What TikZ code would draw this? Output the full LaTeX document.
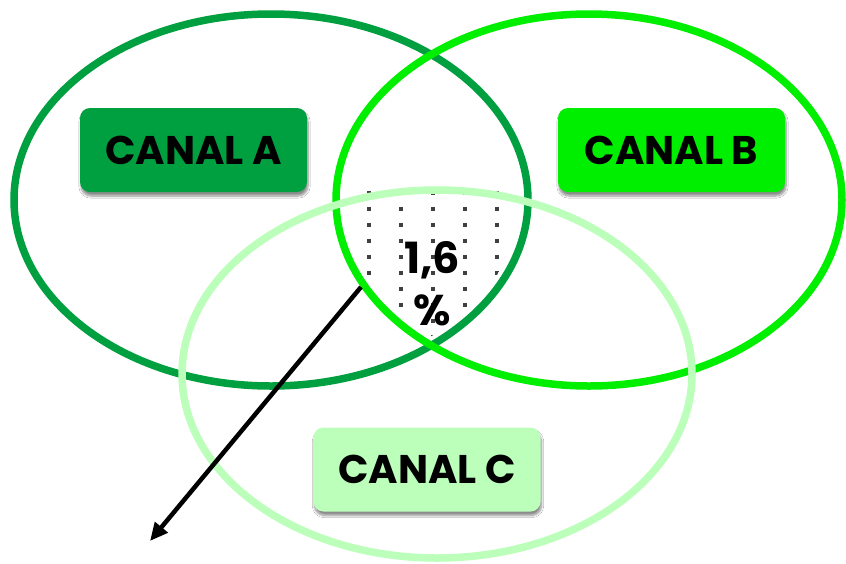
\documentclass[tikz,border=0pt]{standalone}
\usepackage{fontspec}
\setmainfont{Poppins}
\usetikzlibrary{shadows.blur,arrows.meta}
\definecolor{greenA}{HTML}{00A040}
\definecolor{greenB}{HTML}{00EE00}
\definecolor{greenC}{HTML}{BBFFBB}
\begin{document}
\begin{tikzpicture}[x=1pt,y=-1pt,
  ring/.style={line width=7.5pt},
  canal/.style={rounded corners=10pt,minimum width=227pt,minimum height=84pt,
    inner sep=0pt,font=\fontsize{40}{44}\selectfont\bfseries,text=black,
    blur shadow={shadow xshift=1pt,shadow yshift=-4pt,shadow blur steps=8,shadow opacity=45}},
  dotmark/.style={fill=black!75,minimum size=3.2pt,inner sep=0pt},
  share/.style={font=\fontsize{43}{52}\selectfont\bfseries,text=black,align=center,inner sep=0pt},
  pointer/.style={line width=4.5pt,-{Triangle[length=18pt,width=16pt]}}]
\useasboundingbox (0,0) rectangle (846,563);
\fill[white] (0,0) rectangle (846,563);

% dotted fill of the common area
\begin{scope}
  \clip (271,200) ellipse [x radius=249,y radius=178];
  \clip (589,200) ellipse [x radius=245,y radius=178];
  \foreach \cx in {369,401,433,465,497}
    \foreach \cy in {193,209,...,337}
      \node[dotmark] at (\cx,\cy) {};
\end{scope}

% the three sets
\draw[ring,greenA] (271,200) ellipse [x radius=257,y radius=186];
\draw[ring,greenB] (589,200) ellipse [x radius=253,y radius=186];
\draw[ring,greenC] (437,374) ellipse [x radius=255,y radius=184];

% labels
\node[canal,fill=greenA] (ca) at (193.5,150) {CANAL A};
\node[canal,fill=greenB] (cb) at (671.5,150) {CANAL B};
\node[canal,fill=greenC] (cc) at (427,469.5) {CANAL C};

\node[share] (pct) at (432,284) {1,6\\\%};

% pointer out of the common area
\coordinate (from) at (361,287);
\coordinate (to) at (150,541);
\draw[pointer] (from) -- (to);
\end{tikzpicture}
\end{document}
